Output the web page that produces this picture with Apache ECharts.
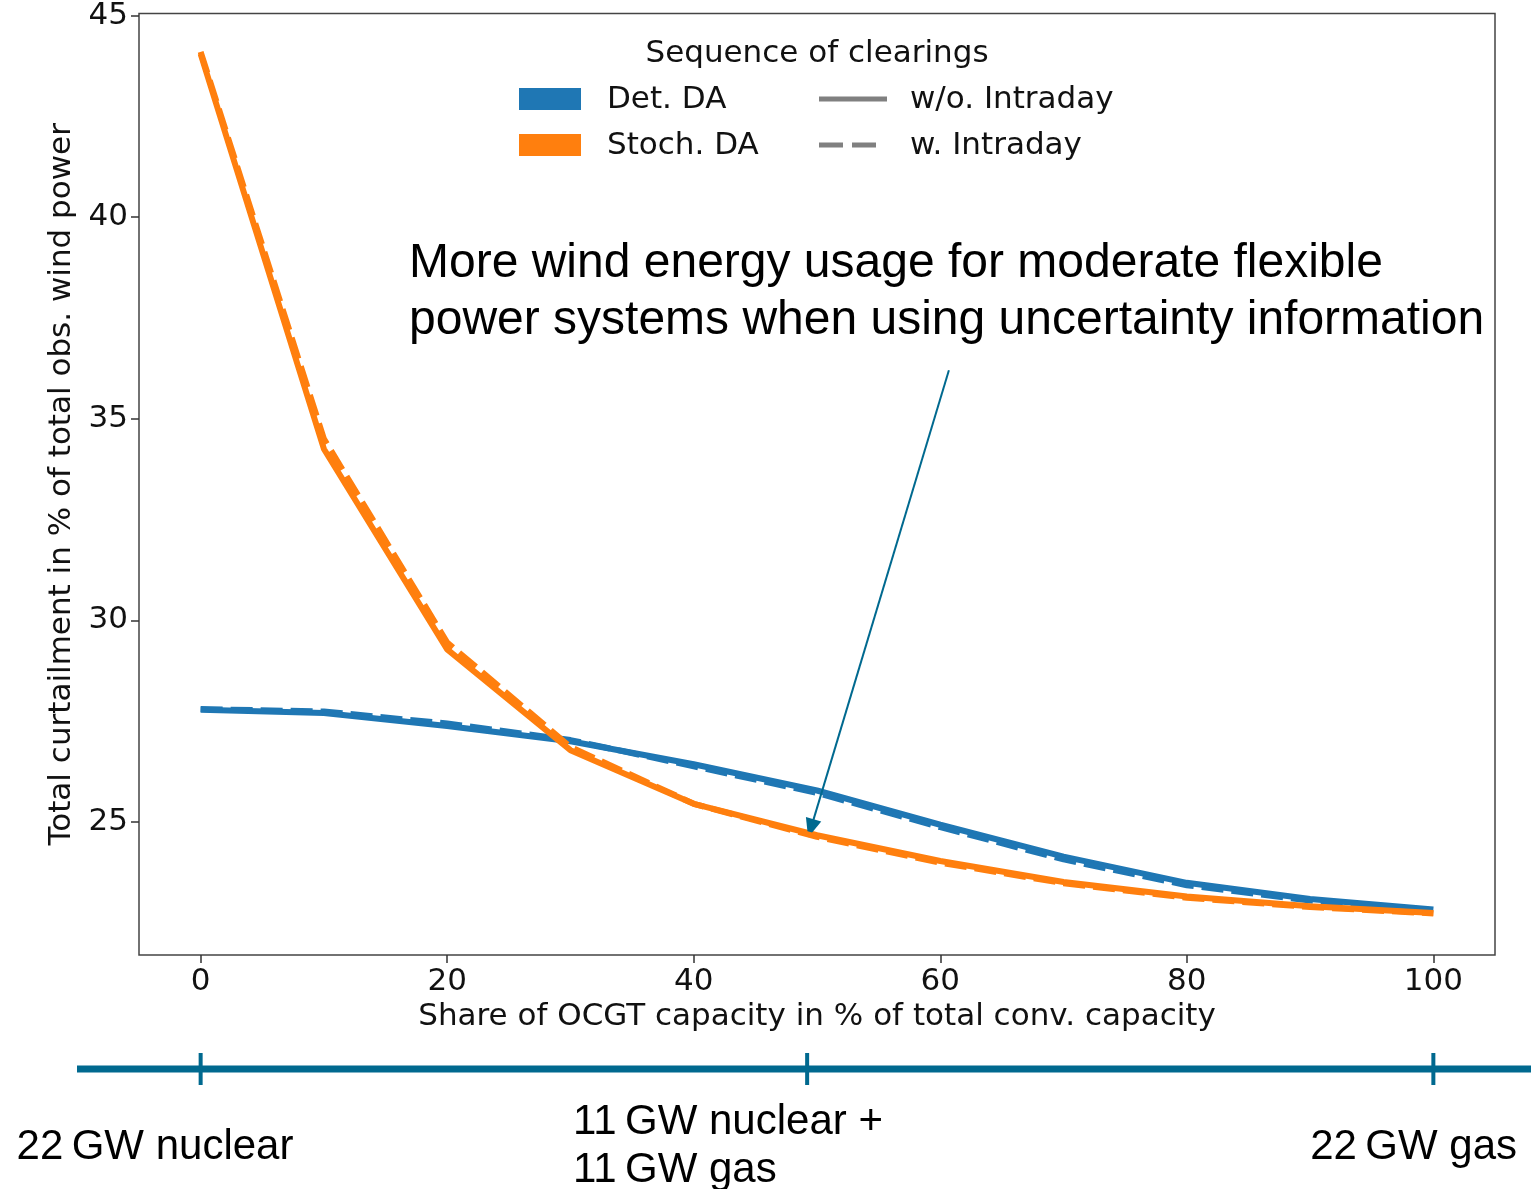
<!DOCTYPE html>
<html>
<head>
<meta charset="utf-8">
<script src="https://cdn.jsdelivr.net/npm/echarts@6/dist/echarts.min.js"></script>
<style>
html,body{margin:0;padding:0;background:#fff;}
#chart{width:1531px;height:1189px;}
</style>
</head>
<body>
<div id="chart"></div>
<script>
// ---- data ----
const shareOCGT = [0, 10, 20, 30, 40, 50, 60, 70, 80, 90, 100];
const detWithoutIntraday   = [27.78, 27.70, 27.38, 27.00, 26.43, 25.78, 24.93, 24.14, 23.49, 23.09, 22.83];
const detWithIntraday      = [27.80, 27.74, 27.44, 27.03, 26.38, 25.72, 24.87, 24.07, 23.43, 23.05, 22.81];
const stochWithoutIntraday = [44.05, 34.25, 29.28, 26.78, 25.45, 24.67, 24.03, 23.51, 23.15, 22.91, 22.74];
const stochWithIntraday    = [44.10, 34.50, 29.45, 26.86, 25.45, 24.63, 23.99, 23.48, 23.12, 22.89, 22.73];
const xTicks = [0, 20, 40, 60, 80, 100];
const yTicks = [25, 30, 35, 40, 45];
const arrowFrom = [60.7, 36.2];
const arrowTo = [49.5, 24.84];
const capacityMixPositions = [0, 49.2, 100];
const capacityMixLabels = ['22\u2009GW nuclear', '11\u2009GW nuclear +\n11\u2009GW gas', '22\u2009GW gas'];
const annotationText = 'More wind energy usage for moderate flexible\npower systems when using uncertainty information';

const BLUE = '#1f77b4', ORANGE = '#ff7f0e', TEAL = '#00698f';
const FONT = 'DejaVu Sans';
const FS = 31;
const LW = 6;
const DASH = [22, 8];

function pairs(ys) { return shareOCGT.map((x, i) => [x, ys[i]]); }

const chart = echarts.init(document.getElementById('chart'), null, {renderer: 'canvas'});

const option = {
  animation: false,
  backgroundColor: '#fff',
  grid: {
    left: 139, right: 36, top: 12, bottom: 234,
    show: true, borderColor: '#444', borderWidth: 1.5,
    containLabel: false
  },
  xAxis: {
    type: 'value', min: -5, max: 105,
    name: 'Share of OCGT capacity in % of total conv. capacity',
    nameLocation: 'middle', nameGap: 46,
    nameTextStyle: {fontFamily: FONT, fontSize: FS, color: '#111'},
    axisLine: {show: false, onZero: false},
    splitLine: {show: false},
    axisTick: {show: true, customValues: xTicks, length: 8, lineStyle: {color: '#333', width: 1.5}},
    axisLabel: {customValues: xTicks, fontFamily: FONT, fontSize: FS, color: '#111', margin: 11}
  },
  yAxis: {
    type: 'value', min: 21.7, max: 45.05,
    name: 'Total curtailment in % of total obs. wind power',
    nameLocation: 'middle', nameGap: 57, nameRotate: 90,
    nameTextStyle: {fontFamily: FONT, fontSize: FS, color: '#111'},
    axisLine: {show: false, onZero: false},
    splitLine: {show: false},
    axisTick: {show: true, customValues: yTicks, length: 8, lineStyle: {color: '#333', width: 1.5}},
    axisLabel: {customValues: yTicks, fontFamily: FONT, fontSize: FS, color: '#111', margin: 11}
  },
  series: [
    {name: 'Det. DA w/o. Intraday', type: 'line', data: pairs(detWithoutIntraday), showSymbol: false,
     lineStyle: {color: BLUE, width: LW, type: 'solid', cap: 'butt'}, z: 2},
    {name: 'Det. DA w. Intraday', type: 'line', data: pairs(detWithIntraday), showSymbol: false,
     lineStyle: {color: BLUE, width: LW, type: DASH, cap: 'butt'}, z: 3},
    {name: 'Stoch. DA w/o. Intraday', type: 'line', data: pairs(stochWithoutIntraday), showSymbol: false,
     lineStyle: {color: ORANGE, width: LW, type: 'solid', cap: 'butt'}, z: 4},
    {name: 'Stoch. DA w. Intraday', type: 'line', data: pairs(stochWithIntraday), showSymbol: false,
     lineStyle: {color: ORANGE, width: LW, type: DASH, cap: 'butt'}, z: 5,
     markLine: {
       silent: true, animation: false,
       symbol: ['none', 'triangle'], symbolSize: [16, 19],
       label: {show: false},
       lineStyle: {color: TEAL, width: 2, type: 'solid'},
       data: [[{coord: arrowFrom}, {coord: arrowTo}]]
     }}
  ],
  graphic: []
};
chart.setOption(option);

// legend + annotation + capacity-mix bar (decoration), positioned via chart scales
const px = v => chart.convertToPixel({xAxisIndex: 0}, v);
const barY = 1069;
const LF = FS + 'px "DejaVu Sans"';
const g = [];
// legend
g.push({type: 'text', x: 817, y: 54, style: {text: 'Sequence of clearings', font: LF, fill: '#111', align: 'center', verticalAlign: 'middle'}});
g.push({type: 'rect', shape: {x: 519, y: 88, width: 62, height: 22}, style: {fill: BLUE}});
g.push({type: 'rect', shape: {x: 519, y: 134, width: 62, height: 22}, style: {fill: ORANGE}});
g.push({type: 'text', x: 607, y: 100, style: {text: 'Det. DA', font: LF, fill: '#111', verticalAlign: 'middle'}});
g.push({type: 'text', x: 607, y: 146, style: {text: 'Stoch. DA', font: LF, fill: '#111', verticalAlign: 'middle'}});
g.push({type: 'line', shape: {x1: 819, y1: 99, x2: 887, y2: 99}, style: {stroke: '#808080', lineWidth: 5}});
g.push({type: 'line', shape: {x1: 819, y1: 145, x2: 877, y2: 145}, style: {stroke: '#808080', lineWidth: 5, lineDash: [24, 9]}});
g.push({type: 'text', x: 910, y: 100, style: {text: 'w/o. Intraday', font: LF, fill: '#111', verticalAlign: 'middle'}});
g.push({type: 'text', x: 910, y: 146, style: {text: 'w. Intraday', font: LF, fill: '#111', verticalAlign: 'middle'}});
// annotation text
g.push({type: 'text', x: 409, y: 235, style: {text: annotationText, font: '48px "Liberation Sans"', lineHeight: 57, fill: '#000', verticalAlign: 'top'}});
// capacity mix bar
g.push({type: 'line', shape: {x1: 77, y1: barY, x2: 1531, y2: barY}, style: {stroke: TEAL, lineWidth: 7}});
capacityMixPositions.forEach(v => {
  const x = px(v);
  g.push({type: 'line', shape: {x1: x, y1: barY - 16, x2: x, y2: barY + 16}, style: {stroke: TEAL, lineWidth: 4}});
});
g.push({type: 'text', x: 155, y: 1147, style: {text: capacityMixLabels[0], font: '42px "Liberation Sans"', fill: '#000', align: 'center', verticalAlign: 'middle'}});
g.push({type: 'text', x: 573, y: 1098, style: {text: capacityMixLabels[1], font: '42px "Liberation Sans"', lineHeight: 48, fill: '#000', align: 'left', verticalAlign: 'top'}});
g.push({type: 'text', x: 1517, y: 1147, style: {text: capacityMixLabels[2], font: '42px "Liberation Sans"', fill: '#000', align: 'right', verticalAlign: 'middle'}});
chart.setOption({graphic: g});
</script>
</body>
</html>
